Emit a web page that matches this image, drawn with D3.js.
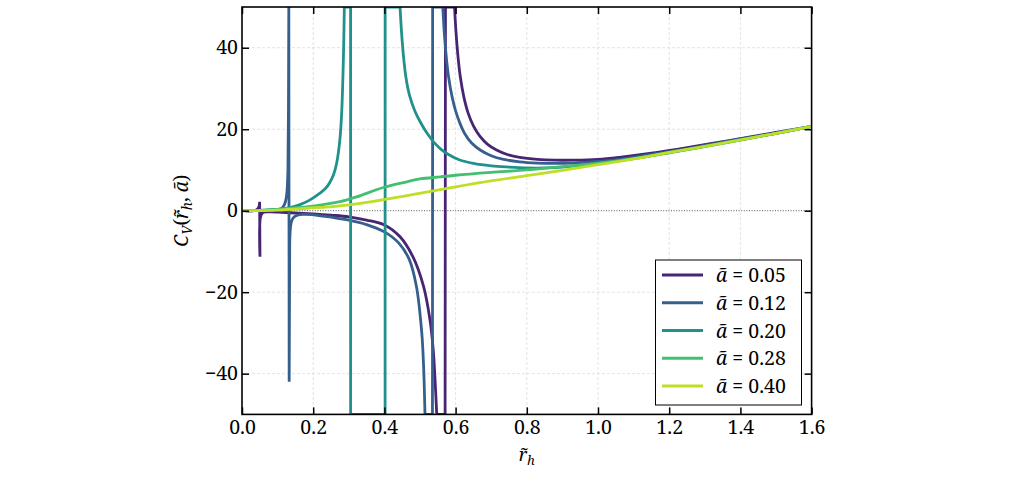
<!DOCTYPE html>
<html>
<head>
<meta charset="utf-8">
<script src="https://cdn.jsdelivr.net/npm/d3@7"></script>
<style>
  body { margin: 0; background: #fff; }
  svg text { font-family: 'serif'; fill: #000; }
</style>
</head>
<body>
<div id="chart"></div>
<script>
// values (clipped at +-50 as in the picture)
var alphas = ["0.05", "0.12", "0.20", "0.28", "0.40"];
var colors = ["#482475", "#355f8d", "#21918c", "#44bf70", "#bddf26"];

var rh005 = [0, 0.02, 0.04, 0.047, 0.0495, 0.0505, 0.053, 0.06, 0.08, 0.1, 0.135, 0.2, 0.25, 0.3, 0.35, 0.4, 0.444, 0.48, 0.51, 0.528, 0.537, 0.542, 0.547, 0.5705, 0.5715, 0.597, 0.601, 0.606, 0.613, 0.623, 0.635, 0.65, 0.668, 0.69, 0.715, 0.745, 0.78, 0.83, 0.88, 0.93, 1.0, 1.06, 1.15, 1.23, 1.32, 1.42, 1.5, 1.6];
var cv005 = [0, -0.1, 0.2, 0.8, 2.2, -11.3, -1.2, -0.4, -0.3, -0.35, -0.5, -0.8, -1.1, -1.5, -2.3, -3.5, -6.4, -11.3, -18.6, -26.8, -34, -41, -50, -50, 50, 50, 44, 38.5, 33, 28, 24, 20.8, 18.3, 16.3, 14.9, 13.8, 13.1, 12.6, 12.4, 12.4, 12.6, 13.1, 14.1, 15.2, 16.5, 18.0, 19.2, 20.7];

var rh012 = [0, 0.05, 0.08, 0.1, 0.11, 0.116, 0.122, 0.126, 0.129, 0.1305, 0.1315, 0.1325, 0.134, 0.137, 0.142, 0.15, 0.17, 0.2, 0.25, 0.3, 0.35, 0.4, 0.44, 0.47, 0.49, 0.505, 0.51, 0.514, 0.535, 0.5355, 0.564, 0.568, 0.573, 0.58, 0.59, 0.6, 0.612, 0.625, 0.645, 0.669, 0.7, 0.735, 0.78, 0.83, 0.88, 0.93, 1.0, 1.06, 1.15, 1.25, 1.4, 1.5, 1.6];
var cv012 = [0, 0.05, 0.15, 0.3, 0.5, 1.0, 2.2, 4.3, 10, 25, 50, -42, -8, -3.5, -2, -1.3, -0.9, -1.0, -1.6, -2.3, -3.4, -5.2, -7.9, -12, -18.6, -30, -38, -50, -50, 50, 50, 44, 38.5, 33, 28, 24.5, 21.5, 19.0, 16.6, 14.9, 13.5, 12.6, 12.0, 11.7, 11.6, 11.7, 12.1, 12.6, 13.8, 15.2, 17.6, 19.0, 20.7];

var rh020 = [0, 0.05, 0.1, 0.13, 0.163, 0.19, 0.219, 0.235, 0.247, 0.257, 0.266, 0.275, 0.28, 0.285, 0.2875, 0.305, 0.3051, 0.402, 0.4021, 0.444, 0.448, 0.453, 0.46, 0.47, 0.485, 0.5, 0.52, 0.54, 0.56, 0.58, 0.61, 0.65, 0.7, 0.75, 0.8, 0.85, 0.9, 1.0, 1.1, 1.2, 1.3, 1.4, 1.5, 1.6];
var cv020 = [0, 0.05, 0.3, 0.7, 1.5, 2.6, 4.3, 5.5, 7.0, 8.8, 11.7, 17.5, 24, 38, 50, 50, -50, -50, 50, 50, 44, 38.5, 33, 28.5, 24.6, 21.9, 19.0, 16.7, 15.0, 13.8, 12.5, 11.6, 11.0, 10.7, 10.5, 10.5, 10.7, 11.6, 12.8, 14.3, 15.8, 17.4, 19.0, 20.7];

var rh028 = [0, 0.05, 0.1, 0.135, 0.2, 0.275, 0.322, 0.397, 0.463, 0.5, 0.557, 0.6, 0.7, 0.8, 0.9, 1.0, 1.1, 1.2, 1.3, 1.4, 1.5, 1.6];
var cv028 = [0, 0.05, 0.3, 0.6, 1.15, 2.2, 3.4, 5.7, 7.1, 7.8, 8.3, 8.7, 9.4, 10.0, 10.8, 11.7, 12.8, 14.2, 15.7, 17.3, 19.0, 20.7];

var rh040 = [0, 0.1, 0.182, 0.275, 0.369, 0.463, 0.557, 0.669, 0.8, 0.9, 1.0, 1.1, 1.2, 1.3, 1.4, 1.5, 1.6];
var cv040 = [0, 0.15, 0.6, 1.2, 2.3, 3.7, 5.2, 6.9, 8.6, 9.9, 11.3, 12.7, 14.3, 15.8, 17.4, 19.0, 20.7];

var xTicks = [0, 0.2, 0.4, 0.6, 0.8, 1.0, 1.2, 1.4, 1.6];
var yTicks = [-40, -20, 0, 20, 40];

(function (d3) {
  'use strict';

  var width = 1014, height = 492;
  var margin = { top: 7, right: 202.4, bottom: 77.6, left: 242 };
  var innerWidth = width - margin.left - margin.right;
  var innerHeight = height - margin.top - margin.bottom;

  var svg = d3.select("#chart").append("svg")
    .attr("width", width).attr("height", height)
    .style("background", "#fff");

  var g = svg.append("g").attr("transform", "translate(" + margin.left + "," + margin.top + ")");

  var xScale = d3.scaleLinear().domain([0, 1.6]).range([0, innerWidth]);
  var yScale = d3.scaleLinear().domain([-50, 50]).range([innerHeight, 0]);

  // grid
  g.append("g").selectAll("line").data(xTicks.slice(1, -1)).enter().append("line")
    .attr("x1", xScale).attr("x2", xScale).attr("y1", 0).attr("y2", innerHeight)
    .attr("stroke", "#dcdcdc").attr("stroke-width", 0.8).attr("stroke-dasharray", "3,2");
  g.append("g").selectAll("line").data(yTicks.filter(function (d) { return d != 0; })).enter().append("line")
    .attr("x1", 0).attr("x2", innerWidth).attr("y1", yScale).attr("y2", yScale)
    .attr("stroke", "#dcdcdc").attr("stroke-width", 0.8).attr("stroke-dasharray", "3,2");

  // zero line
  g.append("line")
    .attr("x1", 0).attr("x2", innerWidth).attr("y1", yScale(0)).attr("y2", yScale(0))
    .attr("stroke", "#555").attr("stroke-width", 1).attr("stroke-dasharray", "1,1.6");

  svg.append("clipPath").attr("id", "clip").append("rect")
    .attr("width", innerWidth).attr("height", innerHeight);

  // split a series at poles and clipped stretches: smooth pieces, straight jumps
  function isJump(q, p) {
    var jump = Math.abs(p[1] - q[1]) > 12 && p[0] - q[0] < 0.003;
    var flat = Math.abs(q[1]) >= 50 && Math.abs(p[1]) >= 50;
    return jump || flat;
  }

  function pieces(pts) {
    var out = [], cur = [pts[0]];
    for (var i = 1; i < pts.length; i++) {
      var q = pts[i - 1], p = pts[i];
      if (isJump(q, p)) {
        out.push({ pts: cur, smooth: true });
        out.push({ pts: [q, p], smooth: false });
        cur = [p];
      } else {
        cur.push(p);
      }
    }
    out.push({ pts: cur, smooth: true });
    return out;
  }

  var smoothLine = d3.line()
    .x(function (d) { return xScale(d[0]); })
    .y(function (d) { return yScale(d[1]); })
    .curve(d3.curveCatmullRom.alpha(0.5));
  var straightLine = d3.line()
    .x(function (d) { return xScale(d[0]); })
    .y(function (d) { return yScale(d[1]); });

  var series = [[rh005, cv005], [rh012, cv012], [rh020, cv020], [rh028, cv028], [rh040, cv040]];
  var plot = g.append("g").attr("clip-path", "url(#clip)");
  series.forEach(function (s, i) {
    var pts = s[0].map(function (x, j) { return [x, s[1][j]]; });
    var d = pieces(pts).filter(function (p) { return p.pts.length > 1; }).map(function (p) {
      return (p.smooth ? smoothLine : straightLine)(p.pts);
    }).join("");
    plot.append("path")
      .attr("d", d)
      .attr("fill", "none")
      .attr("stroke", colors[i])
      .attr("stroke-width", 2.8)
      .attr("stroke-linejoin", "round");
  });

  // axes, ticks pointing inward on all sides
  var fmtX = d3.format(".1f");
  var xAxisG = g.append("g").attr("transform", "translate(0," + innerHeight + ")")
    .call(d3.axisBottom(xScale).tickValues(xTicks).tickFormat(fmtX).tickSizeInner(-7).tickSizeOuter(0).tickPadding(6));
  var yAxisG = g.append("g")
    .call(d3.axisLeft(yScale).tickValues(yTicks).tickSizeInner(-7).tickSizeOuter(0).tickPadding(4));
  var topG = g.append("g")
    .call(d3.axisTop(xScale).tickValues(xTicks).tickFormat("").tickSizeInner(-7).tickSizeOuter(0));
  var rightG = g.append("g").attr("transform", "translate(" + innerWidth + ",0)")
    .call(d3.axisRight(yScale).tickValues(yTicks).tickFormat("").tickSizeInner(-7).tickSizeOuter(0));

  [xAxisG, yAxisG, topG, rightG].forEach(function (a) {
    a.attr("font-family", null);
    a.select(".domain").remove();
    a.selectAll(".tick line").attr("stroke", "#000").attr("stroke-width", 1.5);
    a.selectAll(".tick text").attr("font-size", 19.5).attr("fill", "#000");
  });

  g.append("rect")
    .attr("width", innerWidth).attr("height", innerHeight)
    .attr("fill", "none").attr("stroke", "#000").attr("stroke-width", 1.6);

  // axis labels
  var xl = svg.append("text")
    .attr("x", margin.left + innerWidth / 2).attr("y", 461)
    .attr("text-anchor", "middle").attr("font-size", 18);
  xl.append("tspan").attr("font-style", "italic").text("r\u0303");
  xl.append("tspan").attr("font-style", "italic").attr("font-size", 13).attr("dy", 4).text("h");

  var yl = svg.append("text")
    .attr("transform", "translate(188," + (margin.top + innerHeight / 2) + ") rotate(-90)")
    .attr("text-anchor", "middle").attr("font-size", 19);
  yl.append("tspan").attr("font-style", "italic").text("C");
  yl.append("tspan").attr("font-style", "italic").attr("font-size", 13.5).attr("dy", 4).text("V");
  yl.append("tspan").attr("dy", -4).text("(");
  yl.append("tspan").attr("font-style", "italic").text("r\u0303");
  yl.append("tspan").attr("font-style", "italic").attr("font-size", 13.5).attr("dy", 4).text("h");
  yl.append("tspan").attr("dy", -4).text(", ");
  yl.append("tspan").attr("font-style", "italic").text("\u00e3");
  yl.append("tspan").text(")");

  // legend
  var lg = svg.append("g");
  lg.append("rect")
    .attr("x", 655.5).attr("y", 260).attr("width", 146).attr("height", 145)
    .attr("fill", "#fff").attr("stroke", "#000").attr("stroke-width", 1);
  alphas.forEach(function (a, i) {
    var y = 275 + i * 27.75;
    lg.append("line")
      .attr("x1", 662).attr("x2", 703).attr("y1", y).attr("y2", y)
      .attr("stroke", colors[i]).attr("stroke-width", 2.8);
    var t = lg.append("text").attr("x", 716).attr("y", y + 7).attr("font-size", 19.5);
    t.append("tspan").attr("font-style", "italic").text("\u00e3");
    t.append("tspan").text(" = " + a);
  });
})(d3);
</script>
</body>
</html>
